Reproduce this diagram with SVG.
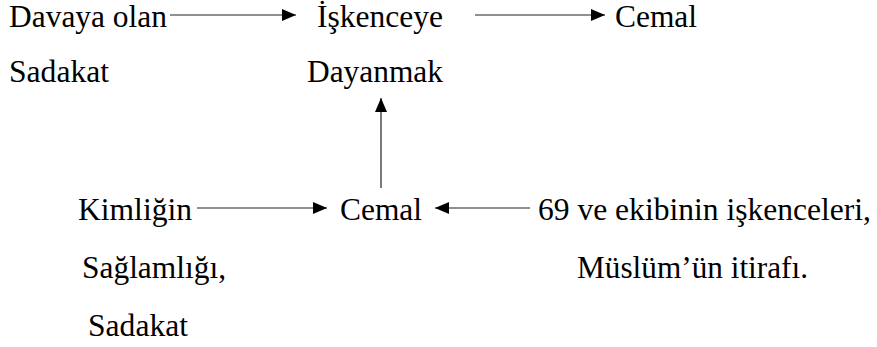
<svg xmlns="http://www.w3.org/2000/svg" width="877" height="347" viewBox="0 0 877 347" font-family="Liberation Serif, DejaVu Serif, serif">
<defs>
<style>
text{font-size:31.5px;fill:#000}
.c{stroke:#222;stroke-width:1.2;fill:none}
</style>
<marker id="ah" markerUnits="userSpaceOnUse" markerWidth="16" markerHeight="14" refX="14" refY="6" orient="auto">
<path d="M0,0 L14,6 L0,12 z" fill="#000"/>
</marker>
</defs>
<rect width="877" height="347" fill="#fff"/>
<g id="n-davaya"><text x="9" y="27" textLength="158" lengthAdjust="spacingAndGlyphs">Davaya olan</text><text x="9" y="82" textLength="100" lengthAdjust="spacingAndGlyphs">Sadakat</text></g>
<g id="n-iskenceye"><text x="317" y="27" textLength="126" lengthAdjust="spacingAndGlyphs">İşkenceye</text><text x="307" y="82" textLength="136" lengthAdjust="spacingAndGlyphs">Dayanmak</text></g>
<g id="n-cemal-top"><text x="615" y="27" textLength="82" lengthAdjust="spacingAndGlyphs">Cemal</text></g>
<g id="n-kimligin"><text x="78" y="220" textLength="114" lengthAdjust="spacingAndGlyphs">Kimliğin</text><text x="82" y="278" textLength="144" lengthAdjust="spacingAndGlyphs">Sağlamlığı,</text><text x="88" y="336" textLength="100" lengthAdjust="spacingAndGlyphs">Sadakat</text></g>
<g id="n-cemal"><text x="340" y="220" textLength="82" lengthAdjust="spacingAndGlyphs">Cemal</text></g>
<g id="n-69"><text x="538" y="220" textLength="333" lengthAdjust="spacingAndGlyphs">69 ve ekibinin işkenceleri,</text><text x="577" y="278" textLength="231" lengthAdjust="spacingAndGlyphs">Müslüm’ün itirafı.</text></g>
<g id="connectors">
<line class="c" x1="170" y1="15" x2="296" y2="15" marker-end="url(#ah)"/>
<line class="c" x1="475" y1="15" x2="605" y2="15" marker-end="url(#ah)"/>
<line class="c" x1="197" y1="208" x2="327" y2="208" marker-end="url(#ah)"/>
<line class="c" x1="530" y1="208" x2="435" y2="208" marker-end="url(#ah)"/>
<line class="c" x1="381" y1="188" x2="381" y2="98" marker-end="url(#ah)"/>
</g>
</svg>
